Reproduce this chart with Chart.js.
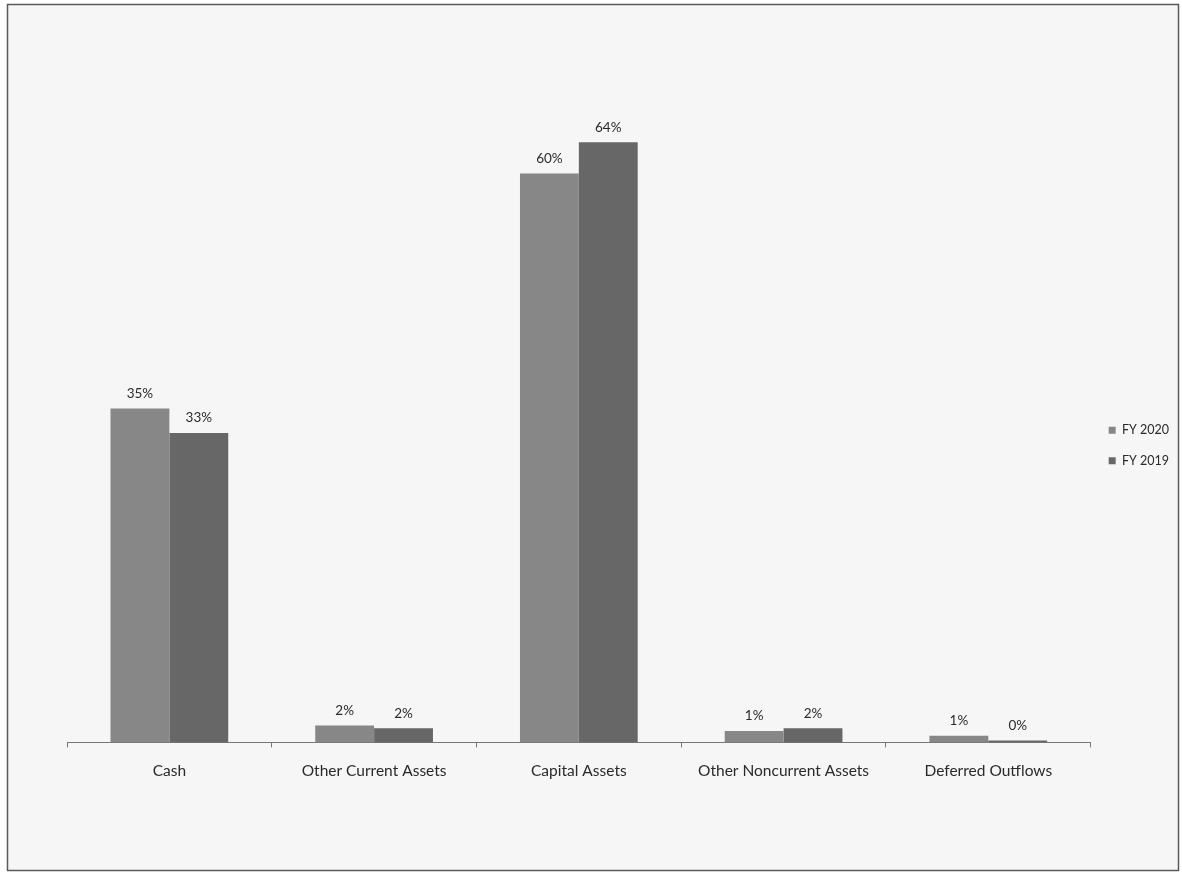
<!DOCTYPE html>
<html>
<head>
<meta charset="utf-8">
<script src="https://cdn.jsdelivr.net/npm/chart.js@4"></script>
<style>
  html, body { margin: 0; padding: 0; background: #ffffff; }
  #wrap { position: relative; width: 1182px; height: 875px; }
  canvas { display: block; }
</style>
</head>
<body>
<div id="wrap"><canvas id="c" width="1182" height="875"></canvas></div>
<script>
const categories = ['Cash', 'Other Current Assets', 'Capital Assets', 'Other Noncurrent Assets', 'Deferred Outflows'];
const seriesNames = ['FY 2020', 'FY 2019'];
const fy2020 = [35.4, 1.8, 60.3, 1.2, 0.7];
const fy2019 = [32.8, 1.5, 63.6, 1.5, 0.2];
const yMax = 68.4;

const FONT = "Lato, 'Liberation Sans', sans-serif";

const framePlugin = {
  id: 'frame',
  beforeDraw(chart) {
    const ctx = chart.ctx;
    ctx.save();
    ctx.fillStyle = '#ffffff';
    ctx.fillRect(0, 0, chart.width, chart.height);
    ctx.fillStyle = '#f6f6f6';
    ctx.fillRect(7, 4, 1172, 867);
    ctx.strokeStyle = '#5a5a5a';
    ctx.lineWidth = 1.5;
    ctx.strokeRect(7.5, 4.5, 1171, 866);
    ctx.restore();
  }
};

const labelPlugin = {
  id: 'barLabels',
  afterDatasetsDraw(chart) {
    const ctx = chart.ctx;
    ctx.save();
    ctx.font = '13.5px ' + FONT;
    ctx.fillStyle = '#2a2a2a';
    ctx.textAlign = 'center';
    ctx.textBaseline = 'middle';
    chart.data.datasets.forEach((ds, di) => {
      const meta = chart.getDatasetMeta(di);
      meta.data.forEach((bar, i) => {
        ctx.fillText(Math.round(ds.data[i]) + '%', bar.x, bar.y - 15);
      });
    });
    ctx.restore();
  }
};

new Chart(document.getElementById('c'), {
  type: 'bar',
  data: {
    labels: categories,
    datasets: [
      { label: seriesNames[0], data: fy2020, backgroundColor: '#878787', borderWidth: 0 },
      { label: seriesNames[1], data: fy2019, backgroundColor: '#676767', borderWidth: 0 }
    ]
  },
  options: {
    responsive: false,
    animation: false,
    layout: { padding: { left: 67, top: 97, right: 3, bottom: 81 } },
    datasets: { bar: { categoryPercentage: 0.575, barPercentage: 1.0 } },
    scales: {
      x: {
        grid: { display: true, drawOnChartArea: false, drawTicks: true, tickLength: 5, color: '#777777' },
        border: { display: true, color: '#777777', width: 1 },
        ticks: { color: '#2a2a2a', font: { family: FONT, size: 15.5 }, padding: 14, maxRotation: 0 }
      },
      y: {
        display: false,
        min: 0,
        max: yMax
      }
    },
    plugins: {
      legend: {
        position: 'right',
        labels: {
          boxWidth: 7,
          boxHeight: 7,
          padding: 18,
          color: '#2a2a2a',
          font: { family: FONT, size: 12.5 }
        }
      },
      tooltip: { enabled: false }
    }
  },
  plugins: [framePlugin, labelPlugin]
});
</script>
</body>
</html>
